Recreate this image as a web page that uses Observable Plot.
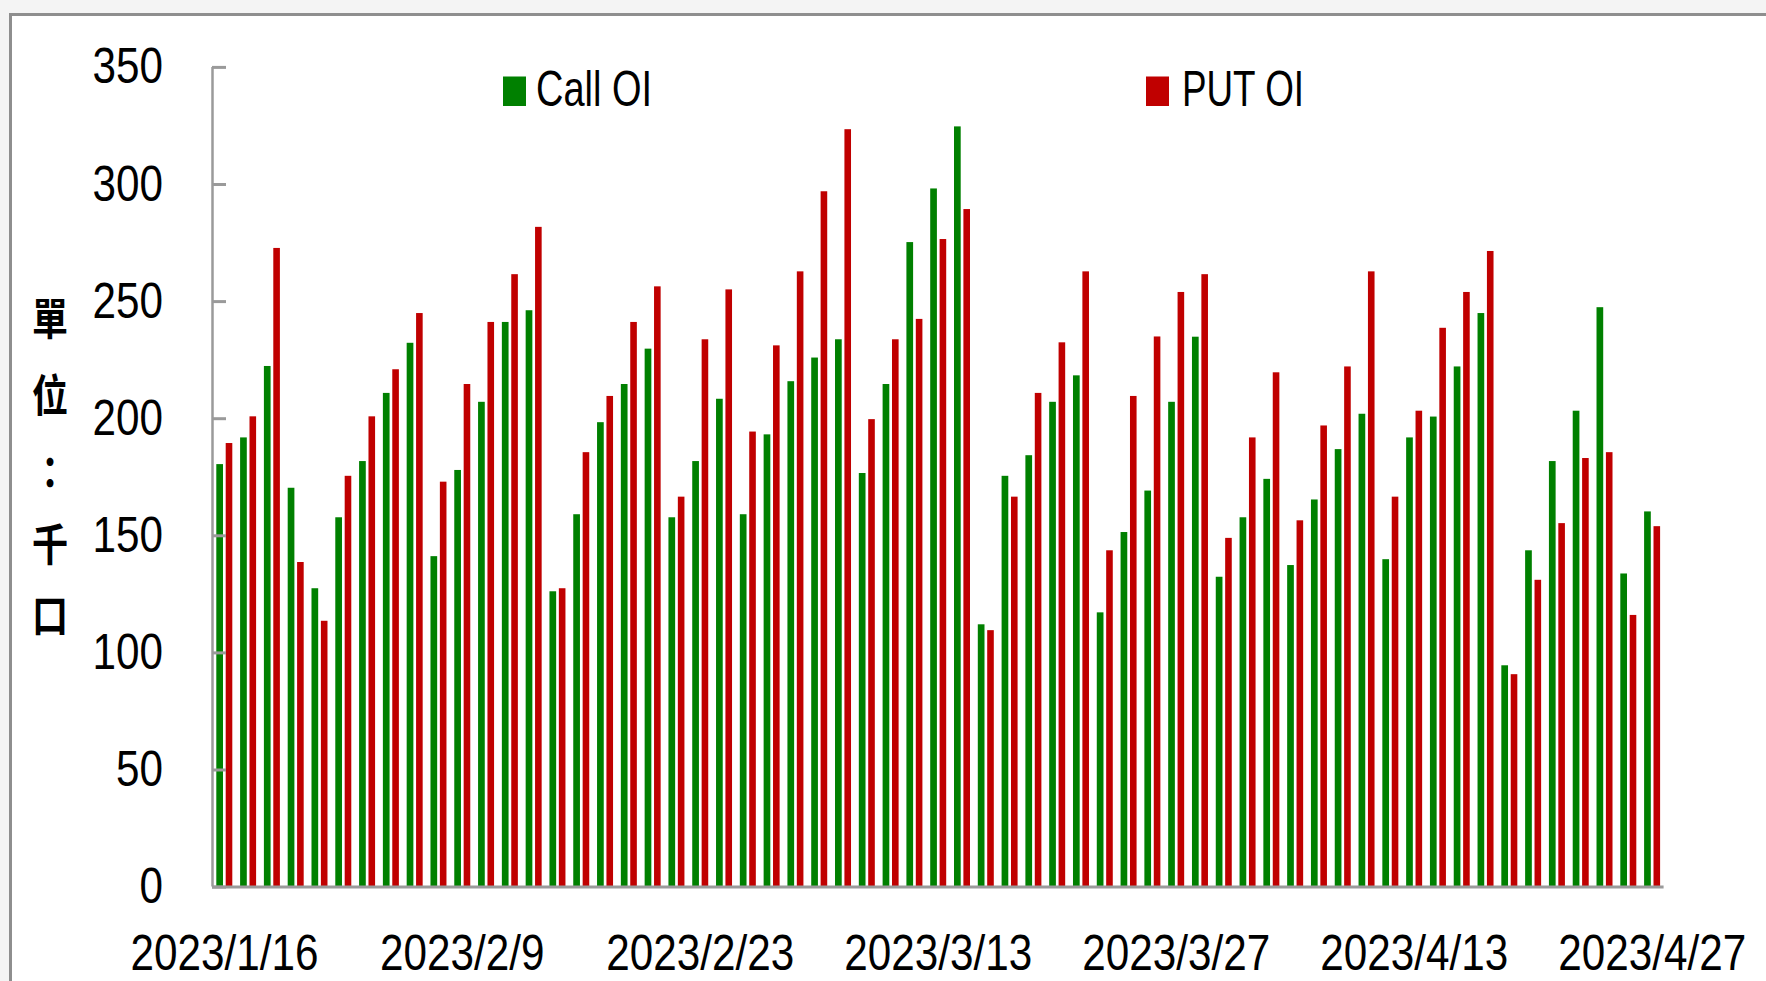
<!DOCTYPE html>
<html>
<head>
<meta charset="utf-8">
<script src="https://cdn.jsdelivr.net/npm/d3@7"></script>
<script src="https://cdn.jsdelivr.net/npm/@observablehq/plot@0.6"></script>
<style>
  html, body { margin: 0; padding: 0; width: 1766px; height: 981px; overflow: hidden; background: #f4f4f4; }
  #frame { position: absolute; left: 9px; top: 13px; width: 1800px; height: 1000px;
           border-left: 3px solid #8e8e8e; border-top: 3px solid #8e8e8e; background: #fff; }
  #chart { position: absolute; left: 0; top: 0; }
</style>
</head>
<body>
<div id="frame"></div>
<div id="chart"></div>
<script>
// Trading dates (category axis)
const dates = [
  "2023/1/16","2023/1/17","2023/1/30","2023/1/31","2023/2/1","2023/2/2","2023/2/3","2023/2/6","2023/2/7","2023/2/8",
  "2023/2/9","2023/2/10","2023/2/13","2023/2/14","2023/2/15","2023/2/16","2023/2/17","2023/2/20","2023/2/21","2023/2/22",
  "2023/2/23","2023/2/24","2023/3/1","2023/3/2","2023/3/3","2023/3/6","2023/3/7","2023/3/8","2023/3/9","2023/3/10",
  "2023/3/13","2023/3/14","2023/3/15","2023/3/16","2023/3/17","2023/3/20","2023/3/21","2023/3/22","2023/3/23","2023/3/24",
  "2023/3/27","2023/3/28","2023/3/29","2023/3/30","2023/3/31","2023/4/6","2023/4/7","2023/4/10","2023/4/11","2023/4/12",
  "2023/4/13","2023/4/14","2023/4/17","2023/4/18","2023/4/19","2023/4/20","2023/4/21","2023/4/24","2023/4/25","2023/4/26",
  "2023/4/27"
];
// Call OI (thousand contracts)
const callOI = [
  180.4,191.8,222.3,170.3,127.4,157.7,181.7,210.8,232.2,141.1,
  177.9,207.0,241.1,246.1,126.1,159.0,198.3,214.6,229.7,157.7,
  181.7,208.3,159.0,193.1,215.8,225.9,233.7,176.6,214.6,275.2,
  298.1,324.6,112.0,175.4,184.2,207.0,218.3,117.1,151.4,169.1,
  207.0,234.8,132.3,157.7,174.1,137.3,165.3,186.8,201.9,139.8,
  191.8,200.7,222.1,244.9,94.5,143.6,181.7,203.2,247.4,133.7,
  160.2
];
// PUT OI (thousand contracts)
const putOI = [
  189.4,200.8,272.7,138.6,113.5,175.4,200.8,220.9,244.9,172.9,
  214.6,241.1,261.5,281.7,127.4,185.5,209.5,241.1,256.3,166.5,
  233.7,255.0,194.3,231.1,262.7,296.9,323.4,199.6,233.7,242.4,
  276.5,289.3,109.5,166.5,210.8,232.4,262.7,143.6,209.5,234.9,
  253.9,261.5,148.9,191.8,219.6,156.4,196.9,222.1,262.7,166.5,
  203.2,238.6,253.9,271.4,90.7,131.0,155.2,183.0,185.5,116.0,
  153.9
];
const yTicks = [0, 50, 100, 150, 200, 250, 300, 350];
const seriesNames = ["Call OI", "PUT OI"];
const seriesColors = ["#008000", "#c00000"];
const yTitle = ["單", "位", "：", "千", "口"];

const rows = dates.map((d, i) => ({date: d, call: callOI[i], put: putOI[i]}));

const W = 1766, H = 981;
const mL = 212, mR = 102.4, mT = 66.9, mB = 94.4;
const step = (W - mL - mR) / dates.length;
const latin = "'Liberation Sans', Arial, sans-serif";

const chart = Plot.plot({
  width: W, height: H,
  marginLeft: mL, marginRight: mR, marginTop: mT, marginBottom: mB,
  style: {background: "transparent", fontFamily: latin, fontSize: "50px", color: "#000", overflow: "visible"},
  x: {type: "band", domain: dates, padding: 0, label: null, tickSize: 0, tickPadding: 47.5,
      tickFormat: (d) => (dates.indexOf(d) % 10 === 0 ? d : "")},
  y: {domain: [0, 350], label: null, ticks: yTicks, tickSize: 0, tickPadding: 49.5},
  marks: [
    Plot.barY(rows, {x: "date", y: "call", fill: seriesColors[0], insetLeft: 4.3, insetRight: step - 11.0}),
    Plot.barY(rows, {x: "date", y: "put", fill: seriesColors[1], insetLeft: 13.7, insetRight: step - 20.3}),
    Plot.ruleY([0], {stroke: "#9a9a9a", strokeWidth: 3}),
    Plot.tickY(yTicks, {y: (d) => d, x: () => dates[0], stroke: "#9a9a9a", strokeWidth: 3, insetLeft: 0, insetRight: step - 14}),
    Plot.ruleX([dates[0]], {y1: 0, y2: 350, dx: -step / 2, stroke: "#9a9a9a", strokeWidth: 2.5})
  ]
});
document.getElementById("chart").appendChild(chart);

const svg = d3.select(chart);
// Narrow the axis labels horizontally (the reference uses a condensed face)
svg.selectAll("text").each(function () {
  const len = this.getComputedTextLength();
  if (len > 0) {
    this.setAttribute("textLength", (len * 0.845).toFixed(1));
    this.setAttribute("lengthAdjust", "spacingAndGlyphs");
  }
});
// Legend
const legendPos = [{sx: 503, tx: 536, len: 116}, {sx: 1146, tx: 1182, len: 122}];
seriesNames.forEach((name, i) => {
  svg.append("rect").attr("x", legendPos[i].sx).attr("y", 76.5).attr("width", 23).attr("height", 29.5)
    .attr("fill", seriesColors[i]);
  svg.append("text").attr("x", legendPos[i].tx).attr("y", 105.5)
    .attr("text-anchor", "start")
    .attr("font-family", latin).attr("font-size", 50).attr("fill", "#000")
    .attr("textLength", legendPos[i].len).attr("lengthAdjust", "spacingAndGlyphs")
    .text(name);
});
// Vertical y-axis title
const titleY = [316, 393, 470, 542, 613];
yTitle.forEach((ch, i) => {
  svg.append("text")
    .attr("transform", `translate(50,${titleY[i]}) scale(0.82,1)`)
    .attr("text-anchor", "middle").attr("dominant-baseline", "central")
    .attr("font-family", "'Noto Sans CJK TC', 'Noto Sans CJK SC', sans-serif")
    .attr("font-weight", 700).attr("font-size", 44).attr("fill", "#000").text(ch);
});
</script>
</body>
</html>
